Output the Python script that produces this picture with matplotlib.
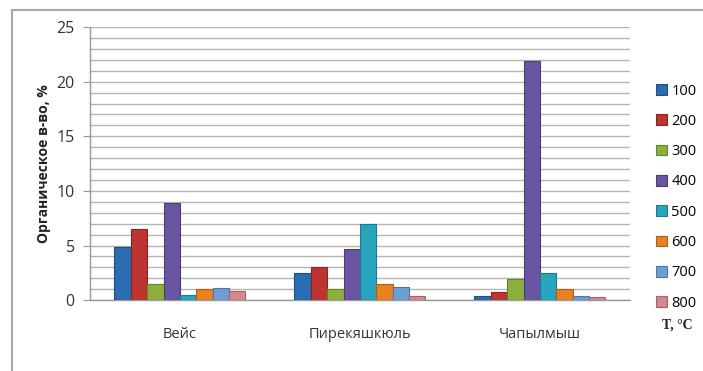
import matplotlib.pyplot as plt
import numpy as np
from matplotlib.patches import Rectangle
from matplotlib.ticker import MultipleLocator

plt.rcParams['font.family'] = ['Open Sans', 'DejaVu Sans']

sites = ['Вейс', 'Пирекяшкюль', 'Чапылмыш']
temps = ['100', '200', '300', '400', '500', '600', '700', '800']
# organic matter, % per site for each temperature
values = {
    '100': [4.9, 2.5, 0.4],
    '200': [6.5, 3.0, 0.7],
    '300': [1.5, 1.0, 1.9],
    '400': [8.9, 4.7, 21.9],
    '500': [0.5, 7.0, 2.5],
    '600': [1.0, 1.45, 1.0],
    '700': [1.1, 1.2, 0.4],
    '800': [0.8, 0.4, 0.3],
}
colors = ['#2a6db3', '#bd3431', '#8cb13a', '#6a55a3', '#2aa5bf',
          '#e8811f', '#6d9fd6', '#d7878e']
edges = ['#1d4f85', '#8a2421', '#66822a', '#4b3b78', '#1d7a8d',
         '#ad5f15', '#4d76a3', '#a4646a']

fig = plt.figure(figsize=(7.03, 3.71), dpi=100)
ax = fig.add_axes([0.128, 0.191, 0.768, 0.736])

x = np.arange(len(sites))
w = 0.091
for i, t in enumerate(temps):
    ax.bar(x + (i - 3.5) * w, values[t], w, color=colors[i],
           edgecolor=edges[i], linewidth=0.8, label=t, zorder=3)

ax.set_xlim(-0.5, 2.5)
ax.set_ylim(0, 25)
ax.yaxis.set_major_locator(MultipleLocator(5))
ax.yaxis.set_minor_locator(MultipleLocator(1))
ax.grid(axis='y', which='both', color='#b4b4b4', linewidth=1.0, zorder=0)
ax.set_xticks(x)
ax.set_xticklabels(sites, fontsize=10.5, color='#333333')
ax.tick_params(axis='x', length=0, pad=19)
ax.tick_params(axis='y', which='major', length=5, color='#999999',
               labelsize=11.5, labelcolor='#333333', pad=6)
ax.tick_params(axis='y', which='minor', length=0)
for s in ['top', 'right']:
    ax.spines[s].set_visible(False)
for s in ['left', 'bottom']:
    ax.spines[s].set_color('#999999')
    ax.spines[s].set_linewidth(1.0)

ax.set_ylabel('Органическое в-во, %', fontsize=10, fontweight='bold',
              color='#222222', labelpad=4)

ax.legend(loc='upper left', bbox_to_anchor=(1.035, 0.82), frameon=False,
          fontsize=10.5, handlelength=0.75, handleheight=0.75,
          handletextpad=0.3, labelspacing=1.05, borderpad=0)

fig.text(0.985, 0.123, 'T, °C', ha='right', va='center', fontsize=10,
         fontweight='bold', family=['Liberation Serif', 'DejaVu Serif'],
         color='#222222')

# outer chart frame
fig.patches.append(Rectangle((12 / 703, -0.01), 1.0, 1 - 10 / 371 + 0.01,
                             transform=fig.transFigure, fill=False,
                             edgecolor='#a8a8a8', linewidth=1.5))

fig.savefig('out.png', dpi=100)
